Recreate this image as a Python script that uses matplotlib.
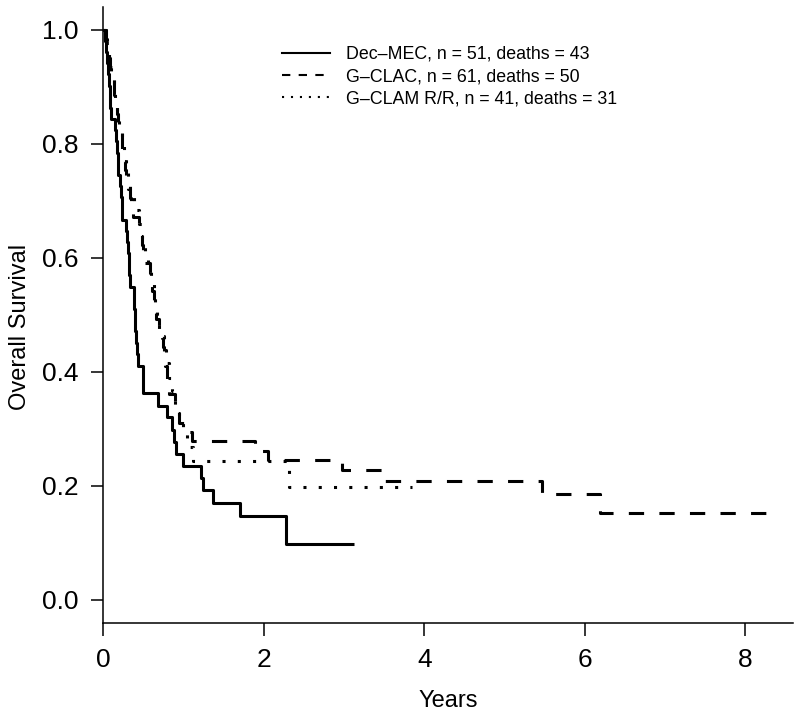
import matplotlib
matplotlib.use("Agg")
import matplotlib.pyplot as plt
from matplotlib.lines import Line2D

plt.rcParams['font.family'] = ['Liberation Sans', 'DejaVu Sans']

# Kaplan-Meier step data: (time in years, survival after step)
dec_t = [0, 0.02, 0.04, 0.05, 0.06, 0.07, 0.08, 0.09, 0.10, 0.15, 0.16, 0.17, 0.18,
         0.19, 0.21, 0.22, 0.23, 0.24, 0.28, 0.30, 0.31, 0.32, 0.325, 0.33, 0.38,
         0.385, 0.39, 0.40, 0.41, 0.42, 0.43, 0.50, 0.68, 0.80, 0.86, 0.88, 0.91, 1.00,
         1.22, 1.245, 1.37, 1.70, 2.28]
dec_s = [1.0, 0.980, 0.961, 0.941, 0.922, 0.902, 0.882, 0.863, 0.843, 0.824, 0.804,
         0.784, 0.765, 0.745, 0.725, 0.706, 0.686, 0.667, 0.647, 0.627, 0.608, 0.588,
         0.569, 0.549, 0.529, 0.510, 0.490, 0.471, 0.451, 0.431, 0.410, 0.363, 0.340,
         0.320, 0.298, 0.277, 0.256, 0.234, 0.213, 0.192, 0.170, 0.147, 0.098]
dec_end = 3.13

clac_t = [0, 0.03, 0.05, 0.07, 0.09, 0.11, 0.13, 0.14, 0.15, 0.17, 0.19, 0.21, 0.23,
          0.24, 0.25, 0.27, 0.29, 0.31, 0.33, 0.35, 0.37, 0.44, 0.46, 0.48, 0.50,
          0.52, 0.58, 0.60, 0.61, 0.63, 0.64, 0.66, 0.70, 0.73, 0.75, 0.76, 0.77,
          0.79, 0.80, 0.82, 0.89, 0.92, 0.94, 1.06, 1.10, 1.89, 2.05, 2.97, 3.47,
          5.47, 6.19]
clac_s = [1.0, 0.984, 0.967, 0.951, 0.934, 0.918, 0.902, 0.885, 0.869, 0.852, 0.836,
          0.820, 0.803, 0.787, 0.770, 0.754, 0.738, 0.721, 0.705, 0.689, 0.672, 0.656,
          0.639, 0.623, 0.607, 0.590, 0.574, 0.557, 0.541, 0.525, 0.508, 0.492, 0.475,
          0.459, 0.443, 0.426, 0.410, 0.393, 0.377, 0.361, 0.344, 0.328, 0.311, 0.295,
          0.278, 0.262, 0.246, 0.228, 0.209, 0.186, 0.152]
clac_end = 8.28

clam_t = [0, 0.04, 0.07, 0.10, 0.13, 0.15, 0.17, 0.20, 0.23, 0.26, 0.29, 0.31, 0.33,
          0.38, 0.44, 0.48, 0.52, 0.56, 0.60, 0.63, 0.65, 0.67, 0.70, 0.76, 0.78,
          0.82, 0.86, 0.90, 0.94, 1.00, 1.05, 1.12, 2.32]
clam_s = [1.0, 0.976, 0.951, 0.927, 0.902, 0.878, 0.854, 0.829, 0.805, 0.780, 0.756,
          0.732, 0.707, 0.683, 0.659, 0.634, 0.610, 0.585, 0.561, 0.537, 0.512, 0.488,
          0.463, 0.439, 0.415, 0.390, 0.366, 0.341, 0.317, 0.293, 0.268, 0.244, 0.198]
clam_end = 3.85

labels = ["Dec\u2013MEC, n = 51, deaths = 43",
          "G\u2013CLAC, n = 61, deaths = 50",
          "G\u2013CLAM R/R, n = 41, deaths = 31"]

fig = plt.figure(figsize=(8, 7.22), dpi=100)
ax = fig.add_axes([0.129, 0.1375, 0.862, 0.853])

lw = 2.2
styles = ['-', (0, (5, 5)), (0, (1, 4))]
series = [(dec_t, dec_s, dec_end), (clac_t, clac_s, clac_end), (clam_t, clam_s, clam_end)]
for (t, s, end), ls in zip(series, styles):
    ax.step(list(t) + [end], list(s) + [s[-1]], where='post', color='black',
            lw=lw, linestyle=ls, solid_capstyle='butt', dash_capstyle='butt')

ax.set_xlim(0, 8.59)
ax.set_ylim(-0.04, 1.04)
ax.set_xticks([0, 2, 4, 6, 8])
ax.set_yticks([0.0, 0.2, 0.4, 0.6, 0.8, 1.0])
ax.set_yticklabels(["0.0", "0.2", "0.4", "0.6", "0.8", "1.0"])
ax.spines['top'].set_visible(False)
ax.spines['right'].set_visible(False)
for sp in ['left', 'bottom']:
    ax.spines[sp].set_linewidth(1.1)
ax.tick_params(axis='both', labelsize=19, length=9, width=1.1, pad=9)
ax.set_xlabel("Years", fontsize=17)
ax.set_ylabel("Overall Survival", fontsize=17)
ax.xaxis.set_label_coords(0.5, -0.109)
ax.yaxis.set_label_coords(-0.105, 0.48)

handles = [Line2D([], [], color='black', lw=1.5, linestyle=ls) for ls in
           ['-', (0, (4, 4)), (0, (1, 3.3))]]
ax.legend(handles, labels, loc='upper left', bbox_to_anchor=(0.247, 0.951),
          frameon=False, fontsize=12.8, handlelength=2.65, handletextpad=0.9,
          labelspacing=0.3, borderpad=0)

fig.savefig("out.png", dpi=100)
